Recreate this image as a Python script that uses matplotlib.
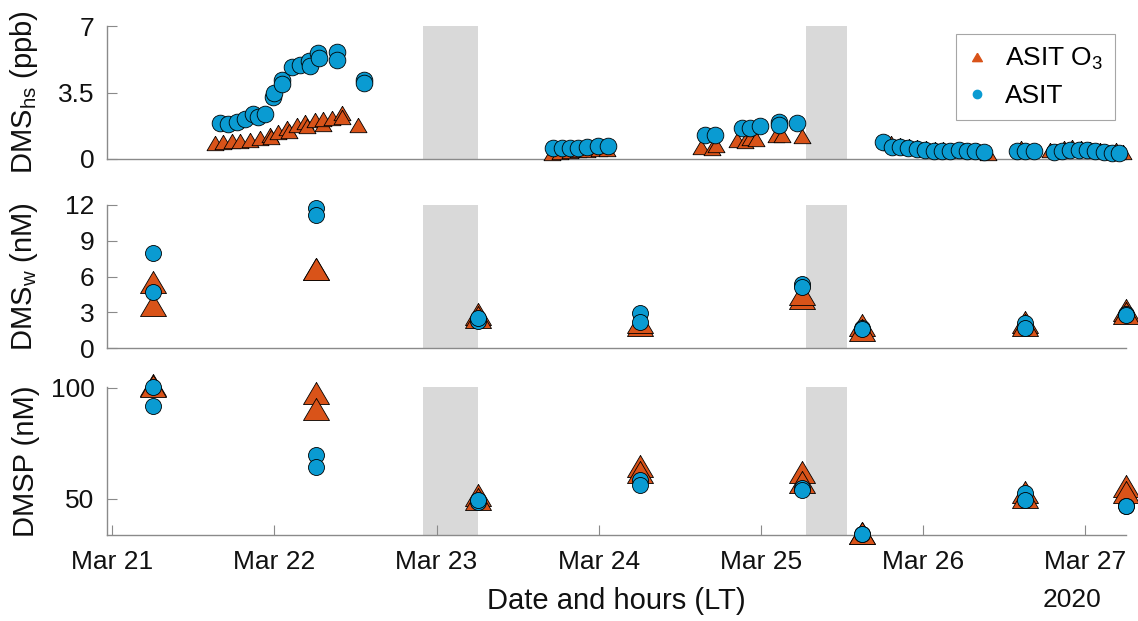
import numpy as np
import pandas as pd
import matplotlib
matplotlib.use("Agg")
import matplotlib.pyplot as plt
import matplotlib.dates as mdates
from matplotlib.lines import Line2D

plt.rcParams['font.family'] = ['Liberation Sans', 'DejaVu Sans']
plt.rcParams['mathtext.fontset'] = 'custom'
plt.rcParams['mathtext.rm'] = 'Liberation Sans'

# ---------------- data ----------------
# Panel 1: DMS headspace (ppb)
hs_asit_time = [
    "2020-03-21 16:00", "2020-03-21 17:12", "2020-03-21 18:27", "2020-03-21 19:41",
    "2020-03-21 20:54", "2020-03-21 21:36", "2020-03-21 22:38", "2020-03-21 23:51",
    "2020-03-22 00:00", "2020-03-22 01:06", "2020-03-22 01:12", "2020-03-22 02:36",
    "2020-03-22 03:49", "2020-03-22 05:10", "2020-03-22 05:18", "2020-03-22 06:32",
    "2020-03-22 06:40", "2020-03-22 09:14", "2020-03-22 09:20", "2020-03-22 13:16",
    "2020-03-22 13:20",
    "2020-03-23 17:17", "2020-03-23 18:32", "2020-03-23 19:45", "2020-03-23 21:00",
    "2020-03-23 22:13", "2020-03-23 23:57", "2020-03-24 01:25",
    "2020-03-24 15:45", "2020-03-24 17:12", "2020-03-24 21:10", "2020-03-24 22:23",
    "2020-03-24 23:53", "2020-03-25 02:36", "2020-03-25 02:41", "2020-03-25 05:18",
    "2020-03-25 18:07", "2020-03-25 19:22", "2020-03-25 20:36", "2020-03-25 21:49",
    "2020-03-25 23:04", "2020-03-26 00:17", "2020-03-26 01:32", "2020-03-26 02:46",
    "2020-03-26 03:59", "2020-03-26 05:14", "2020-03-26 06:27", "2020-03-26 07:42",
    "2020-03-26 08:56",
    "2020-03-26 13:51", "2020-03-26 15:06", "2020-03-26 16:19", "2020-03-26 19:18",
    "2020-03-26 20:31", "2020-03-26 21:45", "2020-03-26 23:00", "2020-03-27 00:13",
    "2020-03-27 01:26", "2020-03-27 02:41", "2020-03-27 03:55", "2020-03-27 04:54",
]
hs_asit_val = [
    1.88, 1.82, 1.93, 2.10, 2.35, 2.20, 2.35, 3.28, 3.50, 4.16, 3.95, 4.86,
    4.95, 5.15, 4.91, 5.56, 5.30, 5.65, 5.21, 4.16, 3.99,
    0.56, 0.56, 0.56, 0.60, 0.62, 0.70, 0.70,
    1.26, 1.26, 1.61, 1.65, 1.74, 1.96, 1.79, 1.88,
    0.91, 0.65, 0.61, 0.56, 0.51, 0.47, 0.44, 0.42, 0.42, 0.47, 0.44, 0.44, 0.38,
    0.42, 0.42, 0.42, 0.38, 0.44, 0.47, 0.47, 0.47, 0.44, 0.38, 0.33, 0.31,
]
hs_o3_time = [
    "2020-03-21 15:14", "2020-03-21 16:28", "2020-03-21 17:43", "2020-03-21 18:56",
    "2020-03-21 20:25", "2020-03-21 21:53", "2020-03-21 23:23", "2020-03-21 23:31",
    "2020-03-22 00:36", "2020-03-22 01:51", "2020-03-22 02:10", "2020-03-22 03:20",
    "2020-03-22 04:34", "2020-03-22 04:48", "2020-03-22 06:03", "2020-03-22 07:12",
    "2020-03-22 07:16", "2020-03-22 08:30", "2020-03-22 09:59", "2020-03-22 10:05",
    "2020-03-22 12:26",
    "2020-03-23 17:02", "2020-03-23 18:14", "2020-03-23 19:41", "2020-03-23 20:53",
    "2020-03-23 22:19", "2020-03-24 00:00", "2020-03-24 01:12",
    "2020-03-24 15:07", "2020-03-24 16:48", "2020-03-24 17:17", "2020-03-24 20:24",
    "2020-03-24 21:36", "2020-03-24 22:19", "2020-03-24 23:17", "2020-03-25 02:10",
    "2020-03-25 03:07", "2020-03-25 06:00",
    "2020-03-25 19:12", "2020-03-25 20:38", "2020-03-25 21:50", "2020-03-25 23:02",
    "2020-03-26 00:29", "2020-03-26 01:41", "2020-03-26 02:53", "2020-03-26 04:05",
    "2020-03-26 05:17", "2020-03-26 06:29", "2020-03-26 07:55", "2020-03-26 09:36",
    "2020-03-26 14:24", "2020-03-26 18:43", "2020-03-26 20:53", "2020-03-26 22:05",
    "2020-03-26 23:17", "2020-03-27 00:43", "2020-03-27 02:10", "2020-03-27 04:34",
    "2020-03-27 05:31",
]
hs_o3_val = [
    0.82, 0.88, 0.95, 0.95, 1.00, 1.09, 1.26, 1.15, 1.44, 1.61, 1.45, 1.79,
    1.93, 1.75, 2.05, 1.85, 2.10, 2.17, 2.40, 2.20, 1.79,
    0.30, 0.35, 0.40, 0.45, 0.50, 0.55, 0.55,
    0.65, 0.60, 0.75, 1.00, 0.95, 1.10, 1.05, 1.25, 1.25, 1.20,
    0.85, 0.75, 0.70, 0.65, 0.60, 0.55, 0.55, 0.50, 0.50, 0.45, 0.45, 0.30,
    0.60, 0.45, 0.60, 0.65, 0.60, 0.55, 0.50, 0.50, 0.35,
]

# Panels 2 and 3: discrete water samples (two replicates per time)
sample_time = [
    "2020-03-21 06:07", "2020-03-22 06:09", "2020-03-23 06:07", "2020-03-24 06:03",
    "2020-03-25 06:01", "2020-03-25 14:58", "2020-03-26 15:00", "2020-03-27 05:57",
]
dmsw_o3_a = [5.57, 6.63, 2.88, 1.93, 4.17, 1.93, 2.20, 3.19]
dmsw_o3_b = [3.60, 6.60, 2.60, 2.20, 4.50, 1.50, 1.90, 2.90]
dmsw_asit_a = [7.94, 11.77, 2.27, 2.96, 5.37, 1.71, 2.12, 2.83]
dmsw_asit_b = [4.72, 11.20, 2.50, 2.21, 5.10, 1.60, 1.70, 2.75]

dmsp_o3_a = [101.4, 97.6, 51.8, 64.9, 62.2, 34.5, 53.3, 55.9]
dmsp_o3_b = [101.0, 90.4, 50.0, 62.3, 57.8, 34.5, 51.0, 53.0]
dmsp_asit_a = [100.6, 69.8, 48.8, 58.6, 55.1, 34.2, 52.6, 47.0]
dmsp_asit_b = [91.9, 64.6, 49.5, 56.3, 54.0, 34.2, 49.6, 47.0]

# Shaded periods
shade_start = ["2020-03-22 22:00", "2020-03-25 06:40"]
shade_end = ["2020-03-23 06:05", "2020-03-25 12:45"]

xlim = ("2020-03-20 23:15", "2020-03-27 06:00")
xtick_days = ["2020-03-21", "2020-03-22", "2020-03-23", "2020-03-24",
              "2020-03-25", "2020-03-26", "2020-03-27"]

# ---------------- style ----------------
ORANGE = '#D95319'
BLUE = '#0A9BD2'
SHADE = '#D9D9D9'
AXC = '#8a8a8a'
TXT = '#111111'
TICK_FS = 19
LAB_FS = 21

tri = [(0, 0.85), (-1, -0.85), (1, -0.85), (0, 0.85)]

W, H = 1138, 621
fig = plt.figure(figsize=(W / 100, H / 100), dpi=100)


def pos(left, top, right, bottom):
    return [left / W, 1 - bottom / H, (right - left) / W, (bottom - top) / H]


ax1 = fig.add_axes(pos(107, 26, 1126, 159))
ax2 = fig.add_axes(pos(107, 205, 1126, 348))
ax3 = fig.add_axes(pos(107, 387, 1126, 535))

T = lambda s: mdates.date2num(pd.to_datetime(s))

for ax in (ax1, ax2, ax3):
    for s0, s1 in zip(shade_start, shade_end):
        ax.axvspan(T(s0), T(s1), color=SHADE, lw=0, zorder=0)
    ax.set_xlim(T(xlim[0]), T(xlim[1]))
    for sp in ('top', 'right'):
        ax.spines[sp].set_visible(False)
    for sp in ('left', 'bottom'):
        ax.spines[sp].set_color(AXC)
        ax.spines[sp].set_linewidth(1.0)
    ax.tick_params(axis='both', direction='in', length=7.2, width=0.8,
                   color=AXC, labelsize=TICK_FS, labelcolor=TXT)
    ax.tick_params(axis='y', pad=9)
    ax.set_facecolor('none')

# Panel 1
ax1.plot(T(hs_o3_time), hs_o3_val, ls='none', marker=tri, ms=12.2,
         mfc=ORANGE, mec='k', mew=0.6, clip_on=False, zorder=3)
ax1.plot(T(hs_asit_time), hs_asit_val, ls='none', marker='o', ms=12,
         mfc=BLUE, mec='k', mew=0.6, clip_on=False, zorder=4)
ax1.set_ylim(0, 7)
ax1.set_yticks([0, 3.5, 7])
ax1.set_yticklabels(['0', '3.5', '7'])
ax1.tick_params(axis='x', which='both', bottom=False, labelbottom=False)
ax1.set_ylabel(r'DMS$_{\mathregular{hs}}$ (ppb)', fontsize=LAB_FS, color=TXT)

# Panel 2
for v in (dmsw_o3_a, dmsw_o3_b):
    ax2.plot(T(sample_time), v, ls='none', marker=tri, ms=18.7,
             mfc=ORANGE, mec='k', mew=0.6, clip_on=False, zorder=3)
for v in (dmsw_asit_a, dmsw_asit_b):
    ax2.plot(T(sample_time), v, ls='none', marker='o', ms=11.5,
             mfc=BLUE, mec='k', mew=0.6, clip_on=False, zorder=4)
ax2.set_ylim(0, 12)
ax2.set_yticks([0, 3, 6, 9, 12])
ax2.tick_params(axis='x', which='both', bottom=False, labelbottom=False)
ax2.set_ylabel(r'DMS$_{\mathregular{w}}$ (nM)', fontsize=LAB_FS, color=TXT)

# Panel 3
for v in (dmsp_o3_a, dmsp_o3_b):
    ax3.plot(T(sample_time), v, ls='none', marker=tri, ms=18.7,
             mfc=ORANGE, mec='k', mew=0.6, clip_on=False, zorder=3)
for v in (dmsp_asit_a, dmsp_asit_b):
    ax3.plot(T(sample_time), v, ls='none', marker='o', ms=11.5,
             mfc=BLUE, mec='k', mew=0.6, clip_on=False, zorder=4)
ax3.set_ylim(33.8, 100.4)
ax3.set_yticks([50, 100])
ax3.set_ylabel('DMSP (nM)', fontsize=LAB_FS, color=TXT)
ax3.set_xticks(T(xtick_days))
ax3.xaxis.set_major_formatter(mdates.DateFormatter('%b %d'))
ax3.tick_params(axis='x', pad=11)
ax3.set_xlabel('Date and hours (LT)', fontsize=LAB_FS, color=TXT)
ax3.xaxis.set_label_coords(0.5, -0.35)

for ax in (ax1, ax2, ax3):
    ax.yaxis.set_label_coords(-0.066, 0.5)

fig.text(1072 / W, 1 - 600 / H, '2020', fontsize=TICK_FS, color=TXT,
         ha='center', va='center')

# Legend
handles = [
    Line2D([], [], ls='none', marker=tri, ms=7, mfc=ORANGE, mec=ORANGE),
    Line2D([], [], ls='none', marker='o', ms=6, mfc=BLUE, mec=BLUE),
]
leg = ax1.legend(handles, [r'ASIT O$_{\mathregular{3}}$', 'ASIT'],
                 loc='upper right', bbox_to_anchor=(0.989, 0.94),
                 fontsize=TICK_FS, frameon=True, fancybox=False,
                 handlelength=0.7, handletextpad=0.7, borderpad=0.45,
                 labelspacing=0.45, borderaxespad=0)
leg.get_frame().set_edgecolor('#a6a6a6')
leg.get_frame().set_linewidth(0.8)
leg.get_frame().set_alpha(1)

fig.savefig('out.png', dpi=100)
